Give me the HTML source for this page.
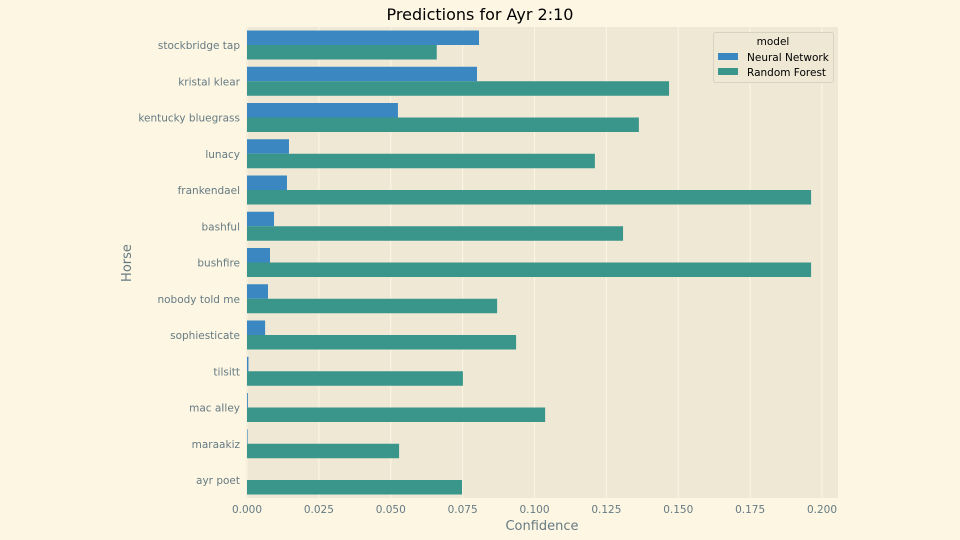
<!DOCTYPE html>
<html><head><meta charset="utf-8"><style>
body{margin:0;background:#fdf6e3;}
svg{display:block;font-family:"DejaVu Sans","Liberation Sans",sans-serif;}
</style></head><body>
<svg id="c" width="960" height="540">
<rect width="960" height="540" fill="#fdf6e3"/>
<rect x="246" y="27" width="592" height="471" fill="#eee8d5"/>
<g id="grid"></g><g id="bars"></g><g id="axes"></g>
<text x="480" y="20" text-anchor="middle" font-size="16" fill="#000">Predictions for Ayr 2:10</text>
<text x="542" y="530" text-anchor="middle" font-size="13" fill="#657b83">Confidence</text>
<text x="131" y="263" text-anchor="middle" font-size="13" fill="#657b83" transform="rotate(-90 131 263)">Horse</text>
<g>
<rect x="713.5" y="32.5" width="120" height="50" rx="2" fill="#eee8d5" stroke="#d8d2c0"/>
<text x="773" y="45" text-anchor="middle" font-size="10.5" fill="#000">model</text>
<rect x="718" y="53" width="20" height="7" fill="#3a87c2"/>
<text x="747" y="61" font-size="10.5" fill="#000">Neural Network</text>
<rect x="718" y="68" width="20" height="7" fill="#3a958a"/>
<text x="747" y="76" font-size="10.5" fill="#000">Random Forest</text>
</g>
</svg>
<script>
const horses=["stockbridge tap","kristal klear","kentucky bluegrass","lunacy","frankendael","bashful","bushfire","nobody told me","sophiesticate","tilsitt","mac aIley","maraakiz","ayr poet"];
const nnValues=[0.0807,0.0800,0.0525,0.0146,0.0139,0.0094,0.0080,0.0073,0.0063,0.0005,0.0003,0.0002,0.0];
const rfValues=[0.0660,0.1468,0.1363,0.1210,0.1962,0.1308,0.1962,0.0870,0.0936,0.0751,0.1037,0.0529,0.0748];
const xTicks=[0,0.025,0.05,0.075,0.1,0.125,0.15,0.175,0.2];
const xTickLabels=["0.000","0.025","0.050","0.075","0.100","0.125","0.150","0.175","0.200"];
const NS="http://www.w3.org/2000/svg";
const x=v=>247+v*2875;
const yc=i=>45+i*36.25;
const bw=14.5;
function mk(tag,attrs,parent,txt){const e=document.createElementNS(NS,tag);for(const k in attrs)e.setAttribute(k,attrs[k]);if(txt!==undefined)e.textContent=txt;document.getElementById(parent).appendChild(e);return e;}
xTicks.forEach((t,i)=>{
 let g=mk('line',{x1:x(t),x2:x(t),y1:27,y2:498,stroke:'#fdf6e3','stroke-width':1},'grid');
 
 
 let tl=mk('text',{x:x(t),y:513,'text-anchor':'middle','font-size':10.5,fill:'#657b83'},'axes',xTickLabels[i]);
 
 
});
horses.forEach((h,i)=>{
 let a=mk('rect',{x:x(0),y:yc(i)-bw,width:x(nnValues[i])-x(0),height:bw,fill:'#3a87c2'},'bars');
 
 
 let b=mk('rect',{x:x(0),y:yc(i),width:x(rfValues[i])-x(0),height:bw,fill:'#3a958a'},'bars');
 
 
 let l=mk('text',{x:240,y:yc(i)+4,'text-anchor':'end','font-size':10.5,fill:'#657b83'},'axes',h);
 
 
});
</script>
</body></html>
